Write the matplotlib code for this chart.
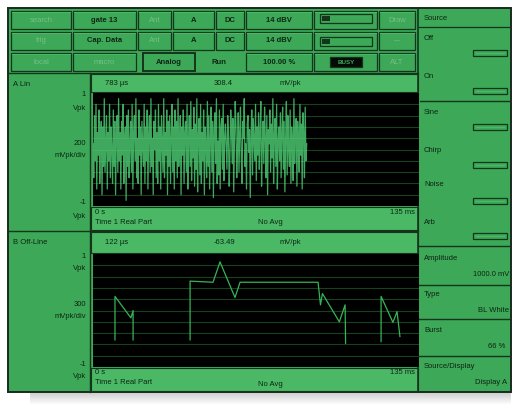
import numpy as np
import matplotlib.pyplot as plt
from matplotlib.patches import Rectangle

# ---- data ----
trace_span_ms = 135
grid_levels = [-0.8, -0.6, -0.4, -0.2, 0.0, 0.2, 0.4, 0.6, 0.8]

# trace A: noise record (Vpk), ends at about 88 ms
noise_a = [0.1, -0.5, 0.6, -0.2, 0.8, -0.7, 0.3, -0.1, 0.7, -0.6, 0.2, 0.5, -0.8, 0.4,
           -0.3, 0.9, -0.4, 0.1, 0.6, -0.7, 0.3, -0.2, 0.8, -0.5, 0.4, 0.0, -0.6, 0.7,
           -0.3, 0.5, -0.8, 0.2, 0.6, -0.4, 0.9, -0.2, 0.3, -0.7, 0.5, -0.1, 0.8, -0.6,
           0.2, 0.4, -0.9, 0.6, -0.3, 0.7, -0.5, 0.1, 0.5, -0.4, 0.8, -0.7, 0.3, 0.6,
           -0.2, 0.9, -0.5, 0.2, -0.6, 0.7, -0.1, 0.4, -0.8, 0.5, 0.1, -0.3, 0.8, -0.6,
           0.4, -0.2, 0.7, -0.7, 0.3, 0.6, -0.4, 0.9, -0.3, 0.2, -0.8, 0.5, 0.0, 0.7,
           -0.5, 0.3, -0.6, 0.8, -0.2, 0.4, -0.7, 0.6, 0.1, -0.4, 0.9, -0.5, 0.3, -0.1,
           0.7, -0.8, 0.5, -0.3, 0.6, -0.6, 0.2, 0.8, -0.4, 0.4, -0.7, 0.7, -0.2, 0.5,
           -0.5, 0.9, -0.3, 0.1, 0.6, -0.8, 0.4, -0.1, 0.7, -0.6, 0.3, 0.5, -0.4, 0.8,
           -0.7, 0.2, 0.6, -0.3, 0.85, -0.55, 0.35, -0.15, 0.75, -0.65, 0.45, -0.35,
           0.9, -0.75, 0.25, 0.55, -0.45, 0.8, -0.6, 0.3, -0.2, 0.7, -0.8, 0.4, 0.1,
           -0.5, 0.85, -0.3, 0.6, -0.7, 0.2, 0.75, -0.4, 0.5, -0.85, 0.35, 0.65, -0.25,
           0.9, -0.6, 0.15, -0.45, 0.7, -0.7, 0.4, 0.55, -0.35, 0.8, -0.55, 0.2,
           0.45, 0.05, -0.35, 0.6, 0.25, -0.65, -0.1, 0.7, 0.35, -0.25, 0.55, -0.75,
           0.15, 0.85, 0.4, -0.5, 0.0, 0.65, -0.4, 0.3, 0.75, -0.15, -0.6, 0.5, 0.2,
           0.9, -0.3, 0.1, -0.7, 0.45, 0.6, -0.05, 0.35, -0.85, 0.25, 0.7, -0.45,
           0.55, 0.15, -0.2, 0.8, -0.55, 0.4, -0.1, 0.65, -0.35, 0.3, 0.85, -0.65,
           0.05, 0.5, -0.25, 0.75, 0.2, -0.5, 0.6, -0.8, 0.35, 0.1, 0.7, -0.4,
           0.45, -0.15, 0.9, -0.6, 0.25, 0.55, -0.3, 0.8, -0.7, 0.15, 0.4, -0.2,
           0.65, -0.5, 0.3, 0.75, -0.35, 0.5, -0.75, 0.2, 0.85, -0.45, 0.6, 0.0,
           -0.3, 0.7, -0.6, 0.4, 0.15, -0.55, 0.9, -0.25, 0.35, 0.55, -0.65, 0.5,
           0.2, -0.4, 0.8, -0.1, 0.45, -0.7, 0.65, 0.3, -0.5, 0.75, -0.2, 0.1]
noise_end_ms = 88.5

# trace B: off-line record, segments separated by gaps
trace_b_t = [9.1, 9.1, 15.7, 16.6, 16.6, np.nan,
             40.2, 40.2, 49.7, 52.6, 58.8, 60.9, 93.2, 94.2, 95.0, 102.0, 104.4, 104.6, np.nan,
             119.3, 119.3, 124.2, 125.9, 127.1]
trace_b_v = [-0.52, 0.25, -0.13, 0.0, -0.52, np.nan,
             -0.52, 0.52, 0.5, 0.86, 0.23, 0.5, 0.5, 0.1, 0.3, -0.2, 0.1, -0.58, np.nan,
             -0.55, 0.25, -0.21, -0.02, -0.46]

# ---- look ----
GREEN = '#3ca858'
LIGHT = '#4ab865'
DARK = '#14351c'
TXT = '#0e2613'
DIM = '#78c088'
GRID = '#17421f'
FS = 5.5

plt.rcParams['font.family'] = ['Liberation Sans', 'DejaVu Sans']

W, H = 516, 405
fig = plt.figure(figsize=(W / 100, H / 100), dpi=100)
fig.patch.set_facecolor('white')
bg = fig.add_axes([0, 0, 1, 1])
bg.set_xlim(0, W)
bg.set_ylim(H, 0)
bg.set_axis_off()


def box(x0, y0, x1, y1, fc='none', ec=DARK, lw=0.9, z=1):
    bg.add_patch(Rectangle((x0, y0), x1 - x0, y1 - y0, fc=fc, ec=ec, lw=lw, zorder=z))


def txt(x, y, s, ha='left', c=TXT, fs=FS, **kw):
    bg.text(x, y, s, ha=ha, va='center', color=c, fontsize=fs, zorder=5, **kw)


# shadow + screen
shade = np.linspace(0.8, 1.0, 20).reshape(-1, 1)
bg.imshow(shade, extent=(30, 511, 405, 392), cmap='gray', vmin=0, vmax=1, aspect='auto', zorder=0)
box(8, 8, 511, 392, fc=GREEN, ec='#1a2a1e', lw=1.4, z=1)

# top soft-key rows
cols = [10, 72, 137, 172, 215, 245, 313, 378, 416]
rows = [(10, 30), (31, 51), (52, 72)]
row_text = [
    [('search', DIM), ('gate 13', TXT), ('Ant', DIM), ('A', TXT), ('DC', TXT), ('14 dBV', TXT), (None, TXT), ('Draw', DIM)],
    [('trig', DIM), ('Cap. Data', TXT), ('Ant', DIM), ('A', TXT), ('DC', TXT), ('14 dBV', TXT), (None, TXT), ('---', DIM)],
    [('local', DIM), ('macro', DIM), ('Analog', TXT), ('Run', TXT), (None, TXT), ('100.00 %', TXT), (None, TXT), ('ALT', DIM)],
]
for r, (y0, y1) in enumerate(rows):
    for c in range(len(cols) - 1):
        x0, x1 = cols[c], cols[c + 1]
        label, color = row_text[r][c]
        if r == 2 and c in (2, 3, 4):
            continue
        box(x0 + 1, y0 + 1, x1 - 1, y1 - 1, fc=GREEN, ec=DARK, lw=0.9, z=2)
        bg.plot([x0 + 2, x1 - 2], [y0 + 2, y0 + 2], color=LIGHT, lw=0.8, zorder=3)
        if label:
            txt((x0 + x1) / 2, (y0 + y1) / 2, label, ha='center', c=color,
                fontweight='bold' if color == TXT else 'normal')
# row 3 special keys
box(143, 53, 195, 71, fc=GREEN, ec=DARK, lw=1.4, z=2)
txt(169, 62, 'Analog', ha='center', fontweight='bold')
txt(219, 62, 'Run', ha='center', fontweight='bold')
# level meters
for y0 in (14, 37):
    box(320, y0, 372, y0 + 9, ec=DARK, lw=0.9, z=3)
    box(322, y0 + 2, 330, y0 + 7, fc=DARK, ec='none', z=3)
box(330, 57, 362, 67, fc='#050a06', ec=DARK, z=3)
txt(346, 62, 'BUSY', ha='center', c=GREEN, fs=4.5, fontweight='bold')

# separators
bg.plot([90, 90], [73, 392], color=DARK, lw=1.0, zorder=3)
bg.plot([418, 418], [8, 392], color=DARK, lw=1.2, zorder=3)
bg.plot([8, 418], [73, 73], color=DARK, lw=1.0, zorder=3)
bg.plot([8, 418], [231, 231], color=DARK, lw=1.0, zorder=3)

# trace panels
panels = [
    dict(top=74, plot=(93, 206), foot=230, name='A Lin', hdr=('783 \u00b5s', '308.4', 'mV/pk'),
         scale='200', data=(np.linspace(0, noise_end_ms, len(noise_a)), noise_a)),
    dict(top=232, plot=(254, 367), foot=391, name='B Off-Line', hdr=('122 \u00b5s', '-63.49', 'mV/pk'),
         scale='300', data=(trace_b_t, trace_b_v)),
]
for k, p in enumerate(panels):
    yp0, yp1 = p['plot']
    box(91, p['top'], 418, yp0 - 1, fc=LIGHT, ec=DARK, lw=0.8, z=2)
    box(91, yp1 + 1, 418, p['foot'], fc=LIGHT, ec=DARK, lw=0.8, z=2)
    h1, h2, h3 = p['hdr']
    hy = (p['top'] + yp0) / 2
    txt(105, hy, h1)
    txt(214, hy, h2)
    txt(280, hy, h3)
    txt(95, yp1 + 6, '0 s')
    txt(95, yp1 + 16, 'Time 1 Real Part')
    txt(258, yp1 + 17, 'No Avg')
    txt(415, yp1 + 6, '135 ms', ha='right')
    txt(13, p['top'] + 10, p['name'])
    for yy, s in [(yp0 + 2, '1'), (yp0 + 15, 'Vpk'), ((yp0 + yp1) / 2 - 6, p['scale']),
                  ((yp0 + yp1) / 2 + 6, 'mVpk/div'), (yp1 - 3, '-1'), (yp1 + 10, 'Vpk')]:
        txt(86, yy, s, ha='right')

    ax = fig.add_axes([93 / W, 1 - yp1 / H, (419 - 93) / W, (yp1 - yp0) / H])
    ax.set_facecolor('black')
    ax.set_xlim(0, trace_span_ms)
    ax.set_ylim(-1, 1)
    ax.set_xticks([])
    ax.set_yticks([])
    for s in ax.spines.values():
        s.set_visible(False)
    for g in grid_levels:
        ax.axhline(g, color=GRID, lw=0.8, zorder=1)
    t, v = p['data']
    if k == 0:
        ax.plot(t, v, color='#4fd276', lw=0.9, alpha=0.8, zorder=3)
    else:
        ax.plot(t, v, color='#35b556', lw=0.9, zorder=3)
    box(399, yp0, 419, yp0 + 10, fc='black', ec=GREEN, lw=0.7, z=6)
    txt(409, yp0 + 5, 'OVL', ha='center', c=GREEN, fs=3.5)

# right soft-key panel
bg.plot([419, 510], [27, 27], color=DARK, lw=0.9, zorder=3)
txt(424, 18, 'Source')
for yy in (101, 246, 285, 319, 356):
    bg.plot([419, 510], [yy, yy], color=DARK, lw=1.0, zorder=3)
for lab, ly, by in [('Off', 38, 53), ('On', 77, 91), ('Sine', 113, 127),
                    ('Chirp', 150, 165), ('Noise', 185, 201), ('Arb', 222, 236)]:
    txt(424, ly, lab)
    box(473, by - 3, 507, by + 3, fc=GREEN, ec=DARK, lw=0.9, z=3)
    bg.plot([476, 504], [by, by], color=LIGHT, lw=0.8, zorder=4)
txt(424, 258, 'Amplitude')
txt(509, 275, '1000.0 mV', ha='right')
txt(424, 295, 'Type')
txt(509, 310, 'BL White', ha='right')
txt(424, 330, 'Burst')
txt(505, 347, '66 %', ha='right')
txt(424, 367, 'Source/Display')
txt(507, 382, 'Display A', ha='right')

plt.savefig('out.png', dpi=100)
